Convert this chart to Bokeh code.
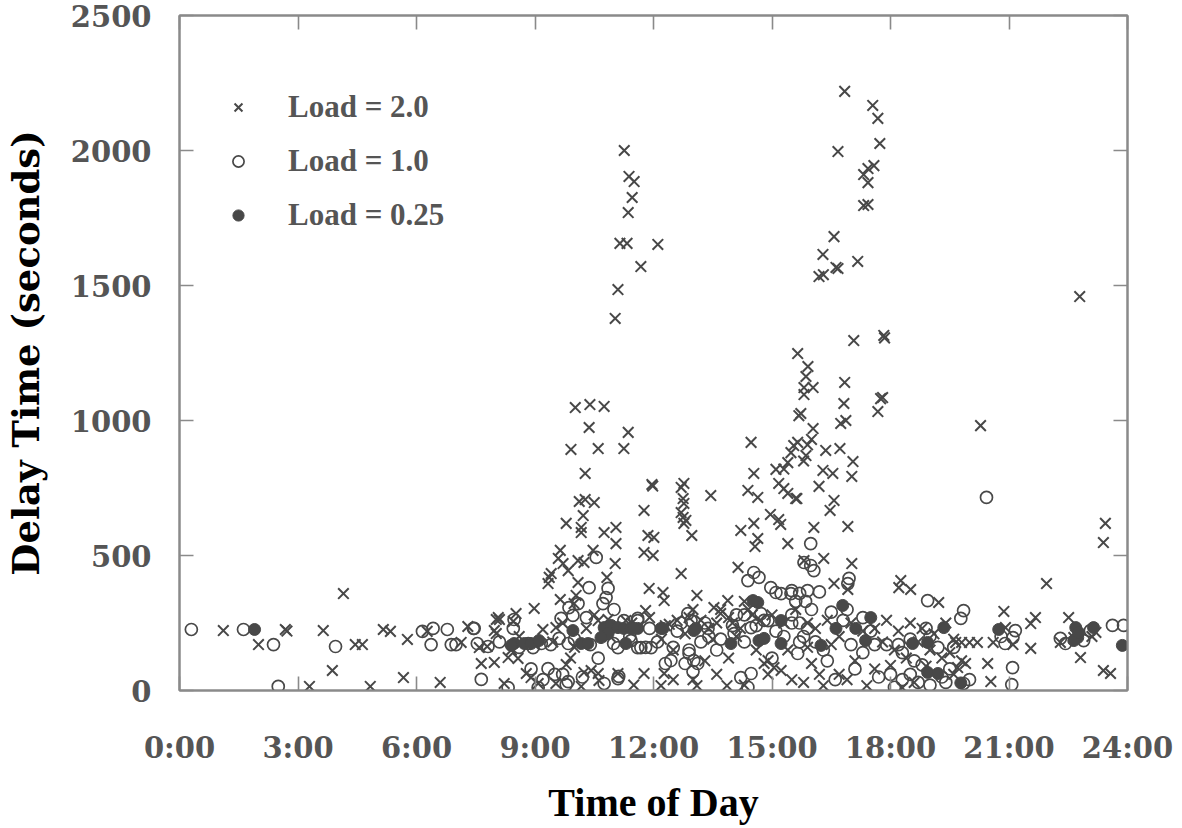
import math
from bokeh.plotting import figure
from bokeh.models import (Range1d, LinearAxis, FixedTicker, Legend, LegendItem,
                          ColumnDataSource)
from bokeh.embed import file_html
from bokeh.resources import INLINE

# ---------------- data ----------------
x_ticks = [0, 3, 6, 9, 12, 15, 18, 21, 24]
x_tick_labels = ["0:00", "3:00", "6:00", "9:00", "12:00", "15:00", "18:00", "21:00", "24:00"]
y_ticks = [0, 500, 1000, 1500, 2000, 2500]

series_labels = ["Load = 2.0", "Load = 1.0", "Load = 0.25"]

load2_hour = [
    1.11, 2.0, 2.68, 2.72, 3.29, 3.64, 3.87, 4.15, 4.45, 4.63, 4.83, 5.16, 5.34, 5.67, 5.77, 6.27, 6.6,
    7.13, 7.3, 7.59, 7.79, 7.64, 7.97, 8.02, 7.97,
    8.02, 8.07, 8.10, 8.45, 8.52, 8.98, 8.22, 8.32, 8.57, 8.78, 8.9, 9.08, 9.33, 9.36, 9.41, 9.53, 9.53,
    9.59, 9.64, 9.64, 9.71, 9.79, 9.79, 9.84, 9.91, 9.99, 10.02, 10.04, 10.09, 10.09, 10.12, 10.17, 10.17,
    10.17, 10.22, 10.24, 10.24, 10.27, 10.27, 10.37, 10.39, 10.42, 10.47, 10.5, 10.6, 10.6, 10.6, 10.62,
    10.75, 10.75, 10.82, 10.85, 11.03, 11.05, 11.05, 11.1, 11.25, 11.36, 11.3, 11.45, 8.6, 9.2, 9.0, 9.45,
    9.7, 10.3, 10.0, 10.9, 8.4, 9.9, 10.5,
    11.03, 11.10, 11.15, 11.33, 11.26, 11.36, 11.38, 11.46, 11.51, 11.68, 12.11,
    11.96, 11.98, 11.76, 11.86, 12.01, 11.76, 11.99, 12.77, 12.7, 12.75, 12.77, 12.7, 12.75, 12.82, 12.77,
    12.97, 13.45, 12.7, 11.89, 12.24, 12.27, 13.1, 13.53, 13.88, 13.7, 14.47, 14.54, 14.39, 14.64, 14.21,
    14.54, 14.64, 14.57, 14.14, 15.1, 15.17, 15.3, 15.4, 15.6, 14.96, 15.17, 15.22, 15.4, 15.4, 15.48,
    15.55, 15.65, 15.68, 15.3, 15.8, 15.9, 16.0,
    11.8, 11.9, 12.4, 12.9, 13.4, 13.7, 12.2, 12.5, 11.76, 12.27, 12.19, 13.1, 13.86, 14.0, 14.3, 14.5,
    13.5, 14.8, 14.9, 14.1, 13.3, 14.9, 15.05, 15.23,
    12.3, 12.6, 13.0, 13.2, 13.6, 13.9, 14.2, 14.4, 14.7, 15.0, 15.3, 12.5, 13.0, 13.6, 14.3, 15.5,
    11.5, 12.8, 13.9, 14.6, 15.4, 15.9, 16.5, 17.8, 18.1, 18.4, 18.7, 19.0, 19.5, 19.8,
    16.84, 17.55, 17.68, 17.73, 16.67, 17.58, 17.43, 17.32, 17.43, 17.32, 17.43, 16.57, 16.29, 16.62,
    16.67, 17.17, 16.19, 16.3, 17.07, 17.83, 17.85, 15.65, 15.91, 15.86, 15.81, 16.04, 15.81, 16.84,
    16.82, 17.8, 17.75, 17.68, 16.74, 16.87, 16.36, 16.72, 17.05, 17.02, 16.29, 16.54, 16.19, 15.63,
    16.57, 16.47, 16.06, 16.92, 15.81, 16.31, 17.02, 16.57, 16.92, 18.26, 18.21, 18.51, 19.22, 18.0,
    15.73, 16.04, 15.86,
    15.6, 15.9, 16.1, 16.4, 16.7, 17.0, 17.3, 17.6, 17.9, 18.2, 18.5, 18.8, 19.1, 19.4, 19.6, 16.0, 16.2,
    16.7, 16.9, 15.8, 16.3, 17.1, 17.6, 18.6, 18.9, 19.3, 19.6, 18.3, 17.4,
    20.28, 23.44, 23.39, 22.79, 21.95, 20.87, 20.91, 21.67, 21.55, 21.55, 22.51, 20.6, 21.1, 19.8, 20.0,
    20.2, 19.65, 20.46, 20.54, 19.9, 19.7, 22.81, 22.3, 22.64, 23.39, 23.57, 23.1, 23.2,
]
load2_delay = [
    222, 170, 226, 220, 15, 222, 74, 359, 170, 170, 15, 226, 219, 48, 189, 219, 30,
    178, 237, 159, 163, 100, 104, 263, 222,
    211, 270, 263, 256, 285, 304, 26, 122, 119, 63, 48, 26, 396, 419, 433, 233, 26,
    489, 519, 337, 470, 619, 96, 444, 893, 322, 1048, 352, 481, 400, 700, 604, 585,
    15, 648, 474, 67, 804, 707, 974, 1059, 74, 519, 696, 896, 259, 63, 37,
    1052, 585, 419, 263, 470, 604, 544, 63, 896, 956, 259, 250, 200, 226, 170, 180,
    250, 230, 160, 200, 150, 120, 280,
    1378, 1485, 1656, 1656, 2000, 1770, 1904, 1826, 1885, 1570, 1652,
    763, 757, 667, 574, 567, 511, 500, 767, 752, 711, 693, 659, 641, 630, 619,
    574, 722, 433, 378, 363, 333, 352, 307, 333, 285, 919, 804, 741, 715, 593,
    619, 563, 533, 456, 819, 767, 748, 730, 711, 652, 633, 615, 544, 844, 881,
    907, 919, 1018, 820, 850, 910, 930,
    296, 270, 245, 270, 230, 300, 190, 150, 63, 63, 18, 18, 18, 250, 330, 280,
    190, 100, 60, 200, 110, 111, 85, 74,
    240, 260, 300, 260, 250, 270, 230, 300, 260, 280, 250, 40, 40, 60, 20, 40,
    20, 210, 120, 150, 150, 160, 170, 180, 150, 120, 180, 150, 140, 110,
    2219, 2167, 2119, 2026, 1996, 1944, 1933, 1911, 1881, 1796, 1800, 1681, 1615, 1567,
    1563, 1589, 1533, 1540, 1296, 1315, 1306, 1248, 1200, 1163, 1122, 1122, 1096, 1141,
    1063, 1085, 1081, 1033, 989, 1000, 889, 896, 848, 793, 815, 804, 756, 711,
    704, 667, 604, 607, 481, 489, 470, 396, 374, 407, 381, 374, 326, 93,
    1026, 970, 870,
    300, 250, 230, 260, 200, 250, 220, 230, 260, 220, 250, 230, 210, 250, 190, 100, 60,
    60, 40, 30, 18, 110, 80, 30, 90, 120, 60, 10, 18,
    981, 619, 548, 1459, 396, 293, 233, 270, 248, 156, 270, 178, 170, 178, 178,
    178, 178, 100, 33, 100, 85, 122, 178, 196, 74, 63, 200, 215,
]

load1_hour = [
    0.3, 1.62, 2.38, 2.5, 3.95, 6.15, 6.42, 6.37, 6.78, 6.88, 7.0, 7.44, 7.54, 7.81, 7.64, 7.46,
    8.32, 8.47, 8.45, 8.83, 8.95, 9.16, 9.08, 9.33, 9.61, 9.84, 9.66, 9.96, 9.86, 10.09, 10.55, 10.37,
    10.85, 10.8, 10.72, 9.84, 9.79, 10.75, 11.1, 11.12, 11.25, 11.6, 10.99, 11.1, 11.6, 8.1, 8.6, 9.4,
    10.0, 10.4, 8.9, 9.5, 10.2, 11.4, 11.8, 10.3, 11.0,
    12.5, 12.9, 12.8, 13.0, 12.3, 13.4, 13.7, 14.0, 14.3, 11.9, 12.1, 13.2, 14.8, 15.1, 15.3, 15.5,
    15.7, 14.3, 14.6, 14.54, 14.67, 14.39, 14.97, 15.1, 15.23, 15.48, 14.72, 14.9, 14.47, 14.04, 15.65,
    12.9, 13.02, 13.12, 12.44, 14.21, 14.47, 14.39, 11.43, 11.68, 11.94, 11.6, 12.87, 12.95, 13.38,
    9.2, 9.7, 10.6, 12.6, 13.6, 14.1, 15.0, 16.1, 16.3, 17.0, 17.5, 18.0, 18.6, 19.2, 19.4, 16.8,
    13.3, 12.7,
    15.98, 15.81, 15.98, 16.06, 16.95, 16.92, 15.5, 15.7, 15.9, 16.2, 15.6, 15.85, 15.5, 16.0, 15.7,
    15.9, 15.8, 16.4, 17.3, 17.1, 18.94, 18.9, 17.9, 18.3, 18.5, 18.7, 18.3, 18.1, 19.0, 19.3, 19.5,
    16.5, 16.9, 17.3, 17.6, 18.2, 18.5, 19.0, 19.6, 19.85, 19.78, 16.6, 17.7, 18.8,
    20.43, 20.8, 21.1, 21.16, 20.9, 21.09, 21.07, 22.3, 22.43, 22.89, 23.06, 23.62, 23.9, 19.85, 20.0,
]
load1_delay = [
    226, 226, 170, 15, 163, 219, 230, 170, 226, 170, 170, 230, 174, 163, 41, 230,
    11, 263, 230, 174, 159, 174, 11, 81, 193, 174, 267, 278, 307, 322, 493, 381,
    378, 344, 322, 33, 22, 26, 44, 52, 259, 267, 174, 159, 159, 180, 160, 170,
    190, 170, 80, 60, 50, 200, 160, 270, 300,
    160, 150, 100, 70, 100, 200, 190, 240, 180, 230, 180, 180, 260, 220, 200, 250,
    180, 280, 240, 437, 419, 407, 381, 363, 359, 359, 285, 259, 233, 211, 137,
    137, 111, 100, 111, 48, 63, 12, 185, 159, 159, 259, 285, 259, 230,
    40, 60, 120, 220, 150, 280, 120, 180, 150, 170, 220, 60, 110, 160, 30, 260,
    250, 250,
    544, 474, 463, 444, 415, 396, 370, 360, 370, 365, 330, 330, 280, 300, 250,
    230, 200, 110, 140, 80, 333, 230, 170, 140, 60, 30, 40, 12, 20, 50, 80,
    290, 300, 270, 170, 170, 190, 200, 160, 296, 267, 40, 50, 95,
    715, 200, 196, 222, 174, 85, 22, 193, 174, 185, 222, 241, 241, 26, 40,
]

load025_hour = [
    1.9, 8.47, 8.73, 8.9, 8.4, 9.1, 9.96, 10.17, 10.34, 10.75, 10.93, 11.1, 11.25, 11.43, 11.6, 10.85,
    10.67, 11.3, 12.19, 11.5, 13.07, 13.96, 14.67, 14.8, 15.23, 14.64, 15.23, 16.79, 17.5, 16.24, 16.62,
    17.12, 17.37, 18.56, 18.94, 19.35, 18.94, 19.2, 19.78, 20.74, 22.69, 22.74, 22.64, 22.76, 23.14,
    23.87, 12.24, 13.02, 14.52,
]
load025_delay = [
    226, 174, 174, 174, 167, 185, 222, 174, 174, 233, 241, 233, 230, 230, 230, 211,
    196, 174, 230, 230, 230, 174, 185, 193, 174, 326, 259, 315, 270, 167, 230,
    230, 185, 174, 178, 233, 67, 63, 28, 226, 233, 196, 185, 215, 233,
    167, 230, 222, 333,
]

# ---------------- styling ----------------
INK = "#484848"
AXIS = "#8a8a8a"
TICK_FONT = "DejaVu Serif"
SERIF = "Liberation Serif"

p = figure(width=1182, height=828, x_range=Range1d(0, 24), y_range=Range1d(0, 2500),
           output_backend="svg", toolbar_location=None,
           min_border_left=178, min_border_right=55, min_border_top=15, min_border_bottom=138)
p.grid.visible = False
p.outline_line_color = AXIS
p.outline_line_width = 2
p.background_fill_color = "white"
p.border_fill_color = "white"

xt = FixedTicker(ticks=x_ticks)
yt = FixedTicker(ticks=y_ticks, num_minor_ticks=5)


def style_axis(ax, minor=True):
    ax.axis_line_color = AXIS
    ax.axis_line_width = 2
    ax.major_tick_line_color = AXIS
    ax.major_tick_line_width = 1.6
    ax.major_tick_in = 14
    ax.major_tick_out = 0
    if minor:
        ax.minor_tick_line_color = AXIS
        ax.minor_tick_line_width = 1.4
        ax.minor_tick_in = 7
        ax.minor_tick_out = 0
    else:
        ax.minor_tick_line_color = None
    ax.major_label_text_font = TICK_FONT
    ax.major_label_text_font_style = "bold"
    ax.major_label_text_color = "#555555"
    ax.major_label_text_font_size = "29px"


# bottom axis
xa = p.xaxis[0]
xa.ticker = xt
xa.major_label_overrides = {t: s for t, s in zip(x_ticks, x_tick_labels)}
style_axis(xa, minor=False)
xa.major_label_standoff = 40
xa.axis_label = "Time of Day"
xa.axis_label_text_font = SERIF
xa.axis_label_text_font_style = "bold"
xa.axis_label_text_font_size = "40px"
xa.axis_label_text_color = "black"
xa.axis_label_standoff = 12

# left axis
ya = p.yaxis[0]
ya.ticker = yt
style_axis(ya, minor=True)
ya.major_label_standoff = 28
ya.axis_label = "Delay Time (seconds)"
ya.axis_label_text_font = TICK_FONT
ya.axis_label_text_font_style = "bold"
ya.axis_label_text_font_size = "37px"
ya.axis_label_text_color = "black"
ya.axis_label_standoff = 20

# top axis
top = LinearAxis(ticker=xt, major_label_overrides={t: "" for t in x_ticks})
style_axis(top, minor=False)
p.add_layout(top, "above")

# right axis
right = LinearAxis(ticker=yt, major_label_overrides={t: "" for t in y_ticks})
style_axis(right, minor=True)
p.add_layout(right, "right")

# ---------------- glyphs ----------------
s2 = ColumnDataSource(dict(x=load2_hour, y=load2_delay))
s1 = ColumnDataSource(dict(x=load1_hour, y=load1_delay))
s0 = ColumnDataSource(dict(x=load025_hour, y=load025_delay))

r2 = p.scatter("x", "y", source=s2, marker="x", size=15, line_color=INK, line_width=2)
r1 = p.scatter("x", "y", source=s1, marker="circle", size=12, line_color=INK,
               fill_color=None, line_width=1.7)
r0 = p.scatter("x", "y", source=s0, marker="circle", size=12, line_color=INK,
               fill_color=INK, line_width=1)

legend = Legend(items=[LegendItem(label=series_labels[0], renderers=[r2]),
                       LegendItem(label=series_labels[1], renderers=[r1]),
                       LegendItem(label=series_labels[2], renderers=[r0])],
                location=(45, 455))
legend.padding = 0
legend.margin = 0
legend.border_line_alpha = 0
legend.background_fill_alpha = 0
legend.glyph_width = 28
legend.glyph_height = 40
legend.label_height = 40
legend.spacing = 14
legend.label_standoff = 36
legend.label_text_font = SERIF
legend.label_text_font_style = "bold"
legend.label_text_font_size = "31px"
legend.label_text_color = "#555555"
legend.label_text_baseline = "middle"
p.add_layout(legend)

open("out.html", "w").write(file_html(p, INLINE))
